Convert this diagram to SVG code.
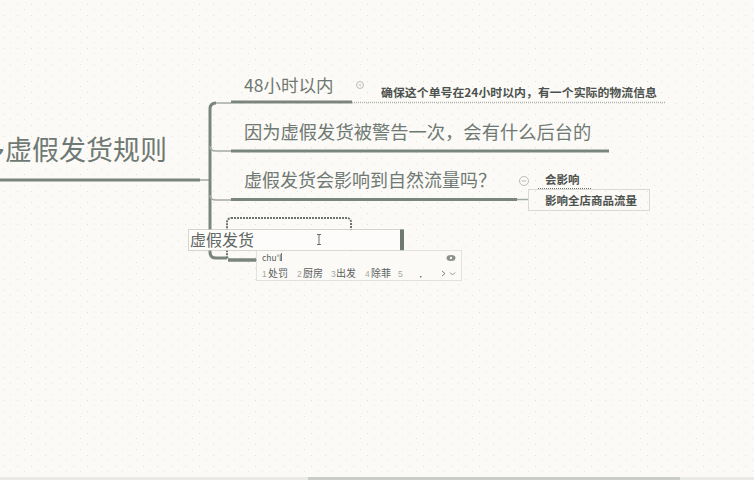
<svg xmlns="http://www.w3.org/2000/svg" width="754" height="480" viewBox="0 0 754 480">
  <defs>
    <pattern id="dots" width="14" height="11" patternUnits="userSpaceOnUse">
      <rect x="3" y="4" width="1" height="1" fill="#e4dfd6"/>
      <rect x="10" y="9" width="1" height="1" fill="#ebe7df"/>
    </pattern>
    <style>
      .topic { font-family: "Noto Sans CJK SC", "Noto Sans", sans-serif; fill: #6f7974; }
      .note { font-family: "Noto Sans CJK SC", "Noto Sans", sans-serif; fill: #4c524f; font-weight: bold; font-size: 11.5px; }
      .ime { font-family: "Noto Sans CJK SC", "Noto Sans", sans-serif; fill: #5a5f5c; font-size: 10px; }
      .idx { font-family: "Liberation Sans", sans-serif; fill: #a4a8a5; font-size: 8.5px; }
      .bar { stroke: #7b8580; stroke-width: 3; fill: none; }
      .thin { stroke: #a3aaa6; stroke-width: 1.5; fill: none; }
      .trunk { stroke: #7b8580; stroke-width: 3; fill: none; stroke-linejoin: round; }
      .fold { fill: none; stroke: #b9bdba; stroke-width: 1; }
    </style>
  </defs>

  <!-- canvas -->
  <rect width="754" height="480" fill="#fcfaf6"/>
  <rect width="754" height="476" fill="url(#dots)"/>

  <!-- connectors -->
  <g id="connectors">
    <line class="bar" x1="0" y1="180" x2="200" y2="180"/>
    <line class="thin" x1="200" y1="180" x2="210" y2="180"/>
    <path class="trunk" d="M216,103 Q210,103 210,109 V252 Q210,258 216,258 H227"/>
    <path class="thin" d="M216,103 H231"/>
    <path class="thin" d="M210,146 Q210,151 216,151 H231"/>
    <path class="thin" d="M210,195 Q210,200 216,200 H231"/>
    <line class="bar" x1="231" y1="102" x2="352" y2="102"/>
    <line x1="352" y1="102.5" x2="665" y2="102.5" stroke="#aeb3b0" stroke-width="1.5" stroke-dasharray="1 1"/>
    <line class="bar" x1="231" y1="151" x2="609" y2="151"/>
    <line class="bar" x1="231" y1="199.5" x2="517" y2="199.5"/>
    <line class="thin" x1="517" y1="199.5" x2="528" y2="199.5"/>
  </g>

  <!-- root topic -->
  <g id="root">
    <text class="topic" x="-22" y="160" font-size="27">多虚假发货规则</text>
  </g>

  <!-- branch 1 -->
  <g id="topic-48h">
    <text class="topic" x="244" y="92" font-size="17.5">48小时以内</text>
    <circle class="fold" cx="360" cy="85" r="3.5"/>
    <line x1="358.5" y1="85" x2="361.5" y2="85" stroke="#b9bdba" stroke-width="1"/>
  </g>
  <g id="note-48h">
    <text class="note" x="381" y="97" textLength="276" lengthAdjust="spacingAndGlyphs">确保这个单号在24小时以内，有一个实际的物流信息</text>
  </g>

  <!-- branch 2 -->
  <g id="topic-warning">
    <text class="topic" x="244" y="139" font-size="18.3">因为虚假发货被警告一次，会有什么后台的</text>
  </g>

  <!-- branch 3 -->
  <g id="topic-traffic">
    <text class="topic" x="244" y="187" font-size="18">虚假发货会影响到自然流量吗？</text>
    <circle class="fold" cx="524" cy="181" r="4.5"/>
    <line x1="522" y1="181" x2="526" y2="181" stroke="#b9bdba" stroke-width="1"/>
  </g>
  <g id="note-affects">
    <text class="note" x="545" y="184">会影响</text>
    <line x1="538" y1="188.5" x2="592" y2="188.5" stroke="#6d7470" stroke-width="1" stroke-dasharray="1 1"/>
  </g>
  <g id="note-store">
    <rect x="528.5" y="189.5" width="121" height="21" fill="none" stroke="#b6bbb8" stroke-width="1" stroke-dasharray="1 1"/>
    <text class="note" x="545" y="205" textLength="92" lengthAdjust="spacingAndGlyphs">影响全店商品流量</text>
  </g>

  <!-- branch 4, being edited -->
  <g id="topic-editing">
    <rect x="227" y="218" width="124" height="42" rx="4" fill="none" stroke="#6b746f" stroke-width="2" stroke-dasharray="2 1"/>
    <line x1="228" y1="260" x2="256" y2="260" stroke="#7b8580" stroke-width="3.5"/>
    <rect x="188.5" y="229.5" width="214" height="21" fill="#fdfcfa" stroke="#a9aeab" stroke-width="1" stroke-dasharray="1 1"/>
    <rect x="400" y="229.5" width="4" height="21" fill="#6f7873"/>
    <text class="topic" x="190" y="246" font-size="16" style="fill:#5f6763">虚假发货</text>
    <!-- text cursor -->
    <path d="M317,234.5 H321 M319,234.5 V244.5 M317,244.5 H321" stroke="#6a6f6c" stroke-width="1" fill="none"/>
  </g>

  <!-- input method candidate window -->
  <g id="ime-popup">
    <rect x="256.5" y="250.5" width="205" height="30" fill="#fbfaf7" stroke="#c9ccca" stroke-width="1" stroke-dasharray="1 1"/>
    <text class="ime" x="262" y="261" style="font-size:8.5px">chu'l</text>
    <line x1="281.5" y1="253" x2="281.5" y2="261" stroke="#555" stroke-width="0.8"/>
    <ellipse cx="451" cy="258" rx="4.5" ry="3" fill="#8b8f8c"/>
    <circle cx="451" cy="258" r="1.2" fill="#fbfaf7"/>
    <text class="idx" x="262" y="277">1</text>
    <text class="ime" x="268" y="277">处罚</text>
    <text class="idx" x="297" y="277">2</text>
    <text class="ime" x="303" y="277">厨房</text>
    <text class="idx" x="331" y="277">3</text>
    <text class="ime" x="336" y="277">出发</text>
    <text class="idx" x="365" y="277">4</text>
    <text class="ime" x="371" y="277">除菲</text>
    <text class="idx" x="398" y="277">5</text>
    <rect x="420" y="276" width="1.5" height="1.5" fill="#777"/>
    <path d="M442,271 L445,273.5 L442,276" stroke="#777" stroke-width="0.9" fill="none"/>
    <path d="M450,272.5 L452.5,275 L455,272.5" stroke="#888" stroke-width="0.9" fill="none"/>
  </g>

  <!-- horizontal scrollbar -->
  <rect x="0" y="477" width="754" height="3" fill="#e9e9e5"/>
  <rect x="308" y="477" width="372" height="3" fill="#c9ccc9"/>
</svg>
